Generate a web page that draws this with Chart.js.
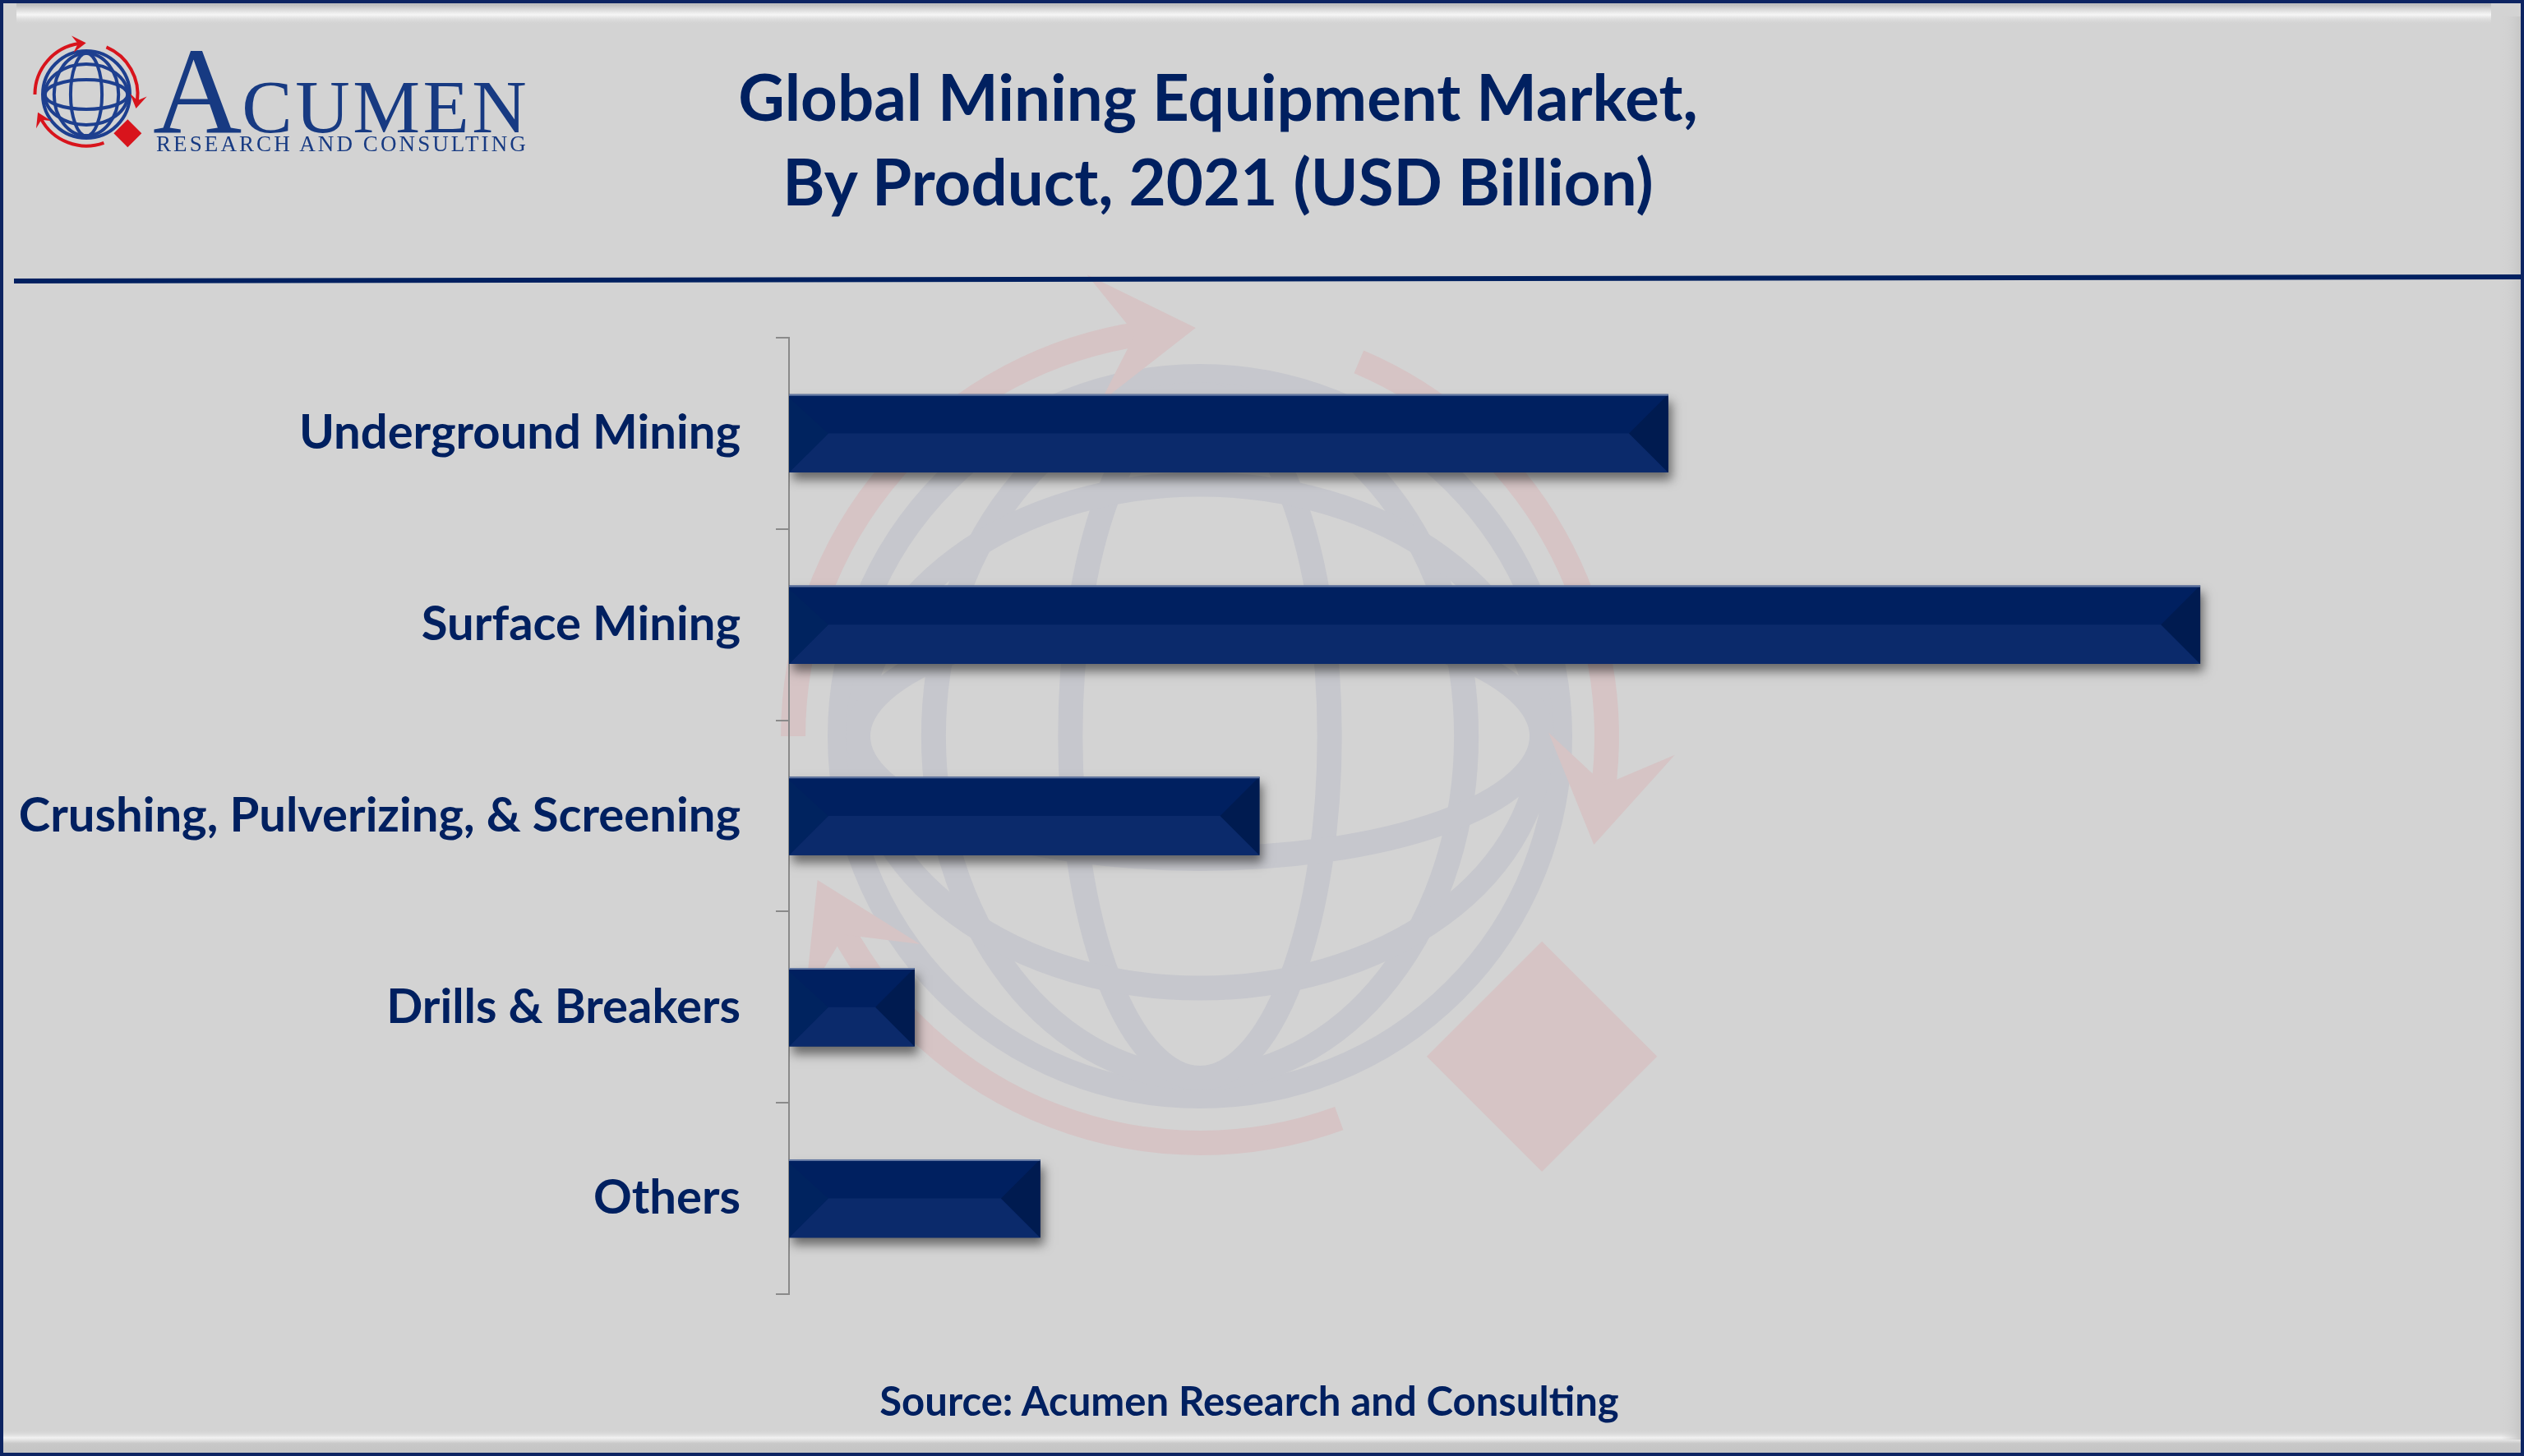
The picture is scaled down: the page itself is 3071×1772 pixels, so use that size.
<!DOCTYPE html>
<html>
<head>
<meta charset="utf-8">
<script src="https://cdn.jsdelivr.net/npm/chart.js@4.4.1/dist/chart.umd.min.js"></script>
<style>
  body { margin: 0; background: #d3d3d3; }
  #wrap { position: relative; width: 3071px; height: 1772px; overflow: hidden; }
  #chart { position: absolute; left: 0; top: 0; }
  .txt { position: absolute; white-space: nowrap; }
  .title {
    left: 682px; top: 66px; width: 1600px; text-align: center;
    font: bold 78px 'Lato', sans-serif; line-height: 103px; color: #002060;
  }
  .source {
    left: 1020px; top: 1674px; width: 1000px; text-align: center;
    font: bold 49px 'Lato', sans-serif; line-height: 60px; color: #002060;
  }
  .brand {
    left: 186px; top: 24px; line-height: 1;
    font: 150px 'Liberation Serif', serif; color: #173a82;
  }
  .brand span { font-size: 92px; letter-spacing: 3.5px; }
  .brand-sub {
    left: 190px; top: 160px; line-height: 1; letter-spacing: 3.1px;
    font: 27px 'Liberation Serif', serif; color: #173a82;
  }
</style>
</head>
<body>
<div id="wrap">
  <canvas id="chart" width="3071" height="1772"></canvas>
  <div class="txt brand">A<span>CUMEN</span></div>
  <div class="txt brand-sub">RESEARCH AND CONSULTING</div>
  <div class="txt title">Global Mining Equipment Market,<br>By Product, 2021 (USD Billion)</div>
  <div class="txt source">Source: Acumen Research and Consulting</div>
</div>
<script>
const categories = [
  'Underground Mining',
  'Surface Mining',
  'Crushing, Pulverizing, & Screening',
  'Drills & Breakers',
  'Others',
];
const marketSize = [35.7, 57.3, 19.1, 5.1, 10.2];
const axisMax = 60;

const navy = '#002060';

// globe + arrows, used for the small logo and the faded watermark
function drawLogo(ctx, cx, cy, r, globeColor, redColor, lw, ringScale) {
  ctx.save();
  ctx.translate(cx, cy);
  ctx.lineWidth = lw;
  ctx.strokeStyle = globeColor;
  const ell = (rx, ry) => {
    ctx.beginPath();
    ctx.ellipse(0, 0, rx, ry, 0, 0, Math.PI * 2);
    ctx.stroke();
  };
  ell(r, r);
  ell(r * 0.74, r * 0.95);
  ell(r * 0.36, r * 0.95);
  ell(r * 0.95, r * 0.7);
  ell(r * 0.95, r * 0.34);

  ctx.strokeStyle = redColor;
  ctx.fillStyle = redColor;
  const R = r * ringScale;
  const deg = Math.PI / 180;
  const arc = (a0, a1) => {
    ctx.beginPath();
    ctx.arc(0, 0, R, a0 * deg, a1 * deg);
    ctx.stroke();
  };
  // barbed arrowhead at angle a, pointing clockwise
  const head = (a) => {
    const t = a * deg;
    const px = Math.cos(t) * R, py = Math.sin(t) * R;
    const ux = -Math.sin(t), uy = Math.cos(t);
    const nx = Math.cos(t), ny = Math.sin(t);
    const s = lw * 2.6;
    ctx.beginPath();
    ctx.moveTo(px + ux * s * 0.6, py + uy * s * 0.6);
    ctx.lineTo(px - ux * s + nx * s, py - uy * s + ny * s);
    ctx.lineTo(px - ux * s * 0.35, py - uy * s * 0.35);
    ctx.lineTo(px - ux * s - nx * s, py - uy * s - ny * s);
    ctx.closePath();
    ctx.fill();
  };
  arc(180, 262);
  head(264);
  arc(293, 368);
  head(370);
  arc(70, 152);
  head(154);

  const dx = r * 0.95, dy = r * 0.89, h = r * 0.32;
  ctx.beginPath();
  ctx.moveTo(dx, dy - h);
  ctx.lineTo(dx + h, dy);
  ctx.lineTo(dx, dy + h);
  ctx.lineTo(dx - h, dy);
  ctx.closePath();
  ctx.fill();
  ctx.restore();
}

const backdrop = {
  id: 'backdrop',
  beforeDraw(chart) {
    const { ctx, width, height } = chart;
    ctx.save();
    ctx.fillStyle = '#d3d3d3';
    ctx.fillRect(0, 0, width, height);

    // top and bottom bevel shine
    let g = ctx.createLinearGradient(0, 6, 0, 30);
    g.addColorStop(0, 'rgba(190,190,190,1)');
    g.addColorStop(0.5, 'rgba(250,250,250,0.9)');
    g.addColorStop(1, 'rgba(211,211,211,0)');
    ctx.fillStyle = g;
    ctx.fillRect(20, 4, width - 60, 26);
    g = ctx.createLinearGradient(0, 1740, 0, 1768);
    g.addColorStop(0, 'rgba(211,211,211,0)');
    g.addColorStop(0.35, 'rgba(245,245,245,0.9)');
    g.addColorStop(0.6, 'rgba(200,200,200,1)');
    g.addColorStop(1, 'rgba(196,196,196,1)');
    ctx.fillStyle = g;
    ctx.fillRect(4, 1740, width - 8, 28);
    g = ctx.createLinearGradient(width - 28, 0, width - 4, 0);
    g.addColorStop(0, 'rgba(211,211,211,0)');
    g.addColorStop(1, 'rgba(198,198,198,1)');
    ctx.fillStyle = g;
    ctx.fillRect(width - 28, 20, 24, height - 40);

    // watermark
    drawLogo(ctx, 1460, 896, 438, '#c6c7cd', '#d6c4c5', 30, 1.13);
    // small logo
    drawLogo(ctx, 105, 115, 53, '#1d3f8f', '#d8141c', 4, 1.18);

    // separator under the title
    ctx.strokeStyle = navy;
    ctx.lineWidth = 6;
    ctx.beginPath();
    ctx.moveTo(17, 342);
    ctx.lineTo(width, 337);
    ctx.stroke();

    // outer frame
    ctx.strokeStyle = '#0d2462';
    ctx.lineWidth = 4;
    ctx.strokeRect(2, 2, width - 4, height - 4);
    ctx.restore();
  },
};

const barShadow = {
  id: 'barShadow',
  beforeDatasetsDraw(chart) {
    const ctx = chart.ctx;
    ctx.save();
    ctx.shadowColor = 'rgba(0,0,0,0.5)';
    ctx.shadowBlur = 12;
    ctx.shadowOffsetX = 4;
    ctx.shadowOffsetY = 9;
  },
  afterDatasetsDraw(chart) {
    const ctx = chart.ctx;
    ctx.restore();
    // bevel faces on every bar
    chart.getDatasetMeta(0).data.forEach((bar) => {
      const { x, y, base, height } = bar.getProps(['x', 'y', 'base', 'height'], true);
      const top = y - height / 2;
      const bottom = y + height / 2;
      const d = height / 2;
      ctx.save();
      ctx.fillStyle = '#0b2a6b';
      ctx.beginPath();
      ctx.moveTo(base + d, y);
      ctx.lineTo(x - d, y);
      ctx.lineTo(x, bottom);
      ctx.lineTo(base, bottom);
      ctx.closePath();
      ctx.fill();
      ctx.fillStyle = '#001b50';
      ctx.beginPath();
      ctx.moveTo(x - d, y);
      ctx.lineTo(x, top);
      ctx.lineTo(x, bottom);
      ctx.closePath();
      ctx.fill();
      ctx.fillStyle = '#00235f';
      ctx.beginPath();
      ctx.moveTo(base, top + 4);
      ctx.lineTo(base + d, y);
      ctx.lineTo(base, bottom);
      ctx.closePath();
      ctx.fill();
      ctx.strokeStyle = 'rgba(110,130,170,0.9)';
      ctx.lineWidth = 2;
      ctx.beginPath();
      ctx.moveTo(base, top + 1);
      ctx.lineTo(x, top + 1);
      ctx.stroke();
      ctx.restore();
    });
  },
};

new Chart(document.getElementById('chart'), {
  type: 'bar',
  data: {
    labels: categories,
    datasets: [
      {
        label: 'Market size (USD Billion)',
        data: marketSize,
        backgroundColor: navy,
        borderWidth: 0,
        categoryPercentage: 1,
        barPercentage: 0.41,
      },
    ],
  },
  options: {
    indexAxis: 'y',
    responsive: false,
    devicePixelRatio: 1,
    animation: false,
    layout: {
      padding: { top: 411, bottom: 197, left: 0, right: 313 },
    },
    scales: {
      x: {
        display: false,
        min: 0,
        max: axisMax,
      },
      y: {
        afterFit: (scale) => { scale.width = 960; },
        grid: {
          drawOnChartArea: false,
          drawTicks: true,
          tickLength: 16,
          color: '#8a8a8a',
          lineWidth: 2,
        },
        border: { color: '#8a8a8a', width: 2 },
        ticks: {
          padding: 43,
          color: navy,
          font: { family: 'Lato', size: 58, weight: 'bold' },
        },
      },
    },
    plugins: {
      legend: { display: false },
      tooltip: { enabled: false },
      title: { display: false },
    },
  },
  plugins: [backdrop, barShadow],
});
</script>
</body>
</html>
